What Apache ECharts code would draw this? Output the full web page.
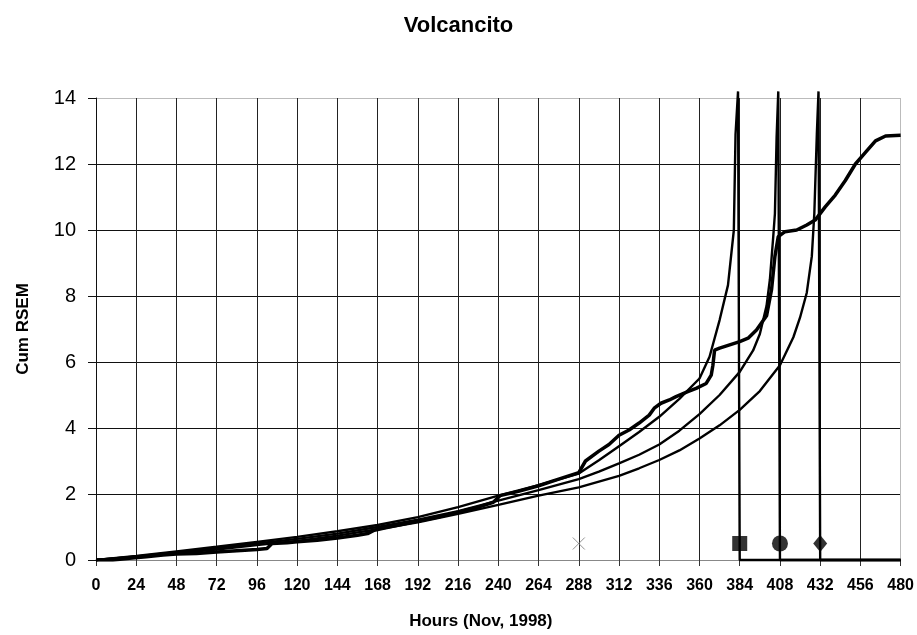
<!DOCTYPE html>
<html>
<head>
<meta charset="utf-8">
<script src="https://cdn.jsdelivr.net/npm/echarts@6/dist/echarts.min.js"></script>
<style>
html,body{margin:0;padding:0;background:#fff;}
#chart{width:917px;height:635px;}
</style>
</head>
<body>
<div id="chart"></div>
<script>
// Tick labels
var xTicks = [0,24,48,72,96,120,144,168,192,216,240,264,288,312,336,360,384,408,432,456,480];
var yTicks = [0,2,4,6,8,10,12,14];

// Observed cumulative RSEM [hours, value]
var observed = [[0,0],[10,0],[20,0.05],[30,0.1],[40,0.15],[48,0.18],[60,0.2],[72,0.24],[84,0.28],[96,0.32],[102,0.35],[105,0.5],[114,0.52],[120,0.55],[132,0.6],[144,0.67],[156,0.75],[162,0.8],[166,0.9],[172,0.97],[180,1.05],[192,1.18],[204,1.3],[216,1.45],[228,1.6],[237,1.75],[241,1.95],[252,2.08],[264,2.25],[276,2.45],[288,2.65],[292,3.0],[300,3.3],[306,3.5],[312,3.78],[318,3.94],[324,4.15],[330,4.39],[333,4.6],[337,4.75],[342,4.85],[346,4.95],[353,5.1],[358,5.2],[364,5.35],[367,5.6],[368,5.9],[369,6.36],[372,6.42],[378,6.52],[384,6.62],[389,6.72],[394,6.97],[400,7.4],[403,8.2],[405,9.2],[407,9.8],[411,9.95],[418,10.0],[424,10.15],[429,10.3],[435,10.7],[441,11.06],[447,11.5],[453,12.0],[459,12.35],[465,12.7],[471,12.85],[480,12.87]];

// Forecast curves (failure forecast fits), ending at forecast time then 0
var fit384 = [[0,0],[24,0.12],[48,0.26],[72,0.4],[96,0.55],[120,0.7],[144,0.87],[168,1.06],[192,1.3],[216,1.6],[240,1.95],[264,2.27],[288,2.62],[300,3.02],[312,3.45],[324,3.88],[336,4.34],[348,4.88],[360,5.5],[366,6.16],[372,7.27],[377,8.33],[380.5,10.0],[381.5,12.9],[383,14.2],[384,14.2],[384,0],[480,0]];
var fit408 = [[0,0],[24,0.11],[48,0.24],[72,0.37],[96,0.5],[120,0.64],[144,0.8],[168,1.0],[192,1.22],[216,1.48],[240,1.8],[264,2.12],[288,2.45],[300,2.68],[312,2.93],[324,3.19],[336,3.5],[348,3.92],[360,4.42],[372,5.0],[384,5.7],[392,6.35],[396,6.85],[400,7.7],[402,8.5],[404,9.8],[405,10.5],[406,12.8],[407,14.2],[408,14.2],[408,0],[480,0]];
var fit432 = [[0,0],[24,0.1],[48,0.21],[72,0.32],[96,0.45],[120,0.58],[144,0.74],[168,0.93],[192,1.14],[216,1.4],[240,1.67],[264,1.95],[288,2.2],[312,2.55],[324,2.78],[336,3.03],[348,3.32],[360,3.68],[372,4.08],[384,4.55],[396,5.12],[408,5.9],[416,6.75],[420,7.35],[424,8.1],[427,9.2],[428.5,10.5],[430,12.9],[431,14.2],[432,14.2],[432,0],[480,0]];

// Point markers
var crossPt = [[288,0.5]];
var squarePt = [[384,0.5]];
var circlePt = [[408,0.5]];
var diamondPt = [[432,0.5]];

var font = "'Liberation Sans', Arial, sans-serif";
var chart = echarts.init(document.getElementById('chart'), null, {renderer:'canvas'});

var xSplitColors = xTicks.map(function(t,i){ return i === xTicks.length-1 ? '#bbb' : '#222'; });
var ySplitColors = yTicks.map(function(t,i){ return i === 0 ? '#888' : (i === yTicks.length-1 ? '#bbb' : '#111'); });

function fitSeries(data){
  return {type:'line', data:data, showSymbol:false, clip:false, smooth:false,
    lineStyle:{color:'#000', width:2.4}, z:3, silent:true};
}

chart.setOption({
  animation:false,
  backgroundColor:'#fff',
  title:{text:'Volcancito', left:'center', top:10,
    textStyle:{fontFamily:font, fontWeight:'bold', fontSize:22, color:'#000'}},
  grid:{left:96, right:14, top:98, bottom:75},
  xAxis:{type:'value', min:0, max:480, interval:24,
    name:'Hours (Nov, 1998)', nameLocation:'middle', nameGap:53,
    nameTextStyle:{fontFamily:font, fontWeight:'bold', fontSize:17, color:'#000', padding:[0,35,0,0]},
    axisLine:{show:true, lineStyle:{color:'#888', width:1}},
    axisTick:{show:true, length:6, lineStyle:{color:'#333'}},
    axisLabel:{fontFamily:font, fontWeight:'bold', fontSize:16, color:'#000', margin:18,
      formatter:function(v){ return String(v); }},
    splitLine:{show:true, lineStyle:{color:xSplitColors, width:1}}},
  yAxis:{type:'value', min:0, max:14, interval:2,
    name:'Cum RSEM', nameLocation:'middle', nameGap:64,
    nameTextStyle:{fontFamily:font, fontWeight:'bold', fontSize:17, color:'#000'},
    axisLine:{show:true, lineStyle:{color:'#111', width:1}},
    axisTick:{show:true, length:8, lineStyle:{color:'#111'}},
    axisLabel:{fontFamily:font, fontSize:20, color:'#000', margin:20},
    splitLine:{show:true, lineStyle:{color:ySplitColors, width:1}}},
  series:[
    fitSeries(fit384),
    fitSeries(fit408),
    fitSeries(fit432),
    {type:'line', data:observed, showSymbol:false, smooth:false,
      lineStyle:{color:'#000', width:3.5}, z:4, silent:true},
    {type:'scatter', data:crossPt, symbol:'path://M0,0L10,10M10,0L0,10', symbolSize:12,
      itemStyle:{color:'rgba(0,0,0,0)', borderColor:'#777', borderWidth:1}, z:5},
    {type:'scatter', data:squarePt, symbol:'rect', symbolSize:15, itemStyle:{color:'#000'}, z:5},
    {type:'scatter', data:circlePt, symbol:'circle', symbolSize:16, itemStyle:{color:'#000'}, z:5},
    {type:'scatter', data:diamondPt, symbol:'diamond', symbolSize:[14,17], itemStyle:{color:'#000'}, z:5}
  ]
});
</script>
</body>
</html>
